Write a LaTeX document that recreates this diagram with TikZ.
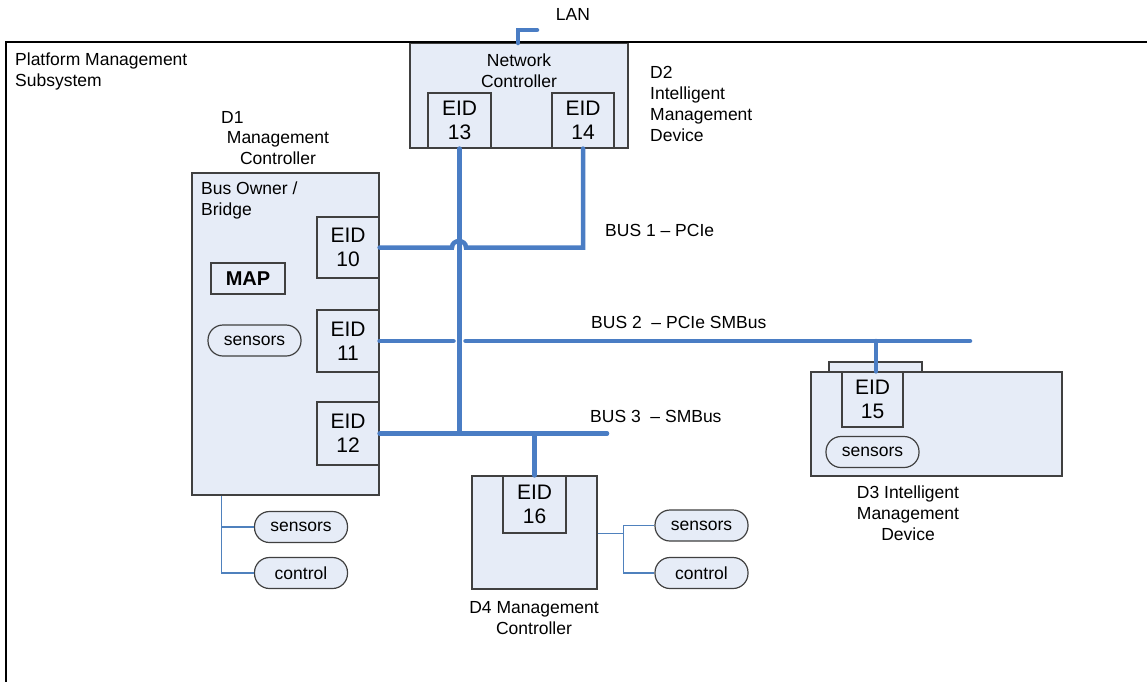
\documentclass[tikz,border=0pt]{standalone}
\usepackage{fontspec}
\setmainfont{Liberation Sans}
\usetikzlibrary{calc}
\definecolor{boxfill}{RGB}{230,236,247}
\definecolor{boxline}{RGB}{64,64,64}
\definecolor{busblue}{RGB}{74,125,196}
\definecolor{wireblue}{RGB}{79,129,189}

\begin{document}
\begin{tikzpicture}[x=1pt,y=-1pt,
    txt/.style={font=\fontsize{17.5}{21}\selectfont, inner sep=0pt},
    box/.style={draw=boxline, line width=1.2pt, fill=boxfill, inner sep=0pt},
    eid/.style={box, align=center, font=\fontsize{21}{24}\selectfont},
    pill/.style={box, rounded corners=15pt, minimum width=93pt, minimum height=31pt, font=\fontsize{17.5}{21}\selectfont},
    bus/.style={draw=busblue, line width=4.5pt, line cap=round},
    wire/.style={draw=wireblue, line width=1.5pt}]
        \useasboundingbox (0,0) rectangle (1147,681);
        \node[box, minimum width=218pt, minimum height=105pt] (nc) at (519,95.5) {};
        \draw[line width=2pt] (6,42) rectangle (1180,700);
        \node[txt, align=left, anchor=west] (title) at (15,71.5) {Platform Management\\Subsystem};
        \node[txt] (lan) at (573,14) {LAN};
        \node[txt, align=center] (nclbl) at (519,71) {Network\\Controller};
        \node[eid, minimum width=63pt, minimum height=55pt] (eid13) at (459.5,120.5) {EID\\13};
        \node[eid, minimum width=62pt, minimum height=55pt] (eid14) at (583,120.5) {EID\\14};
        \node[txt, align=left, anchor=west] (d2lbl) at (650,103.5) {D2\\Intelligent\\Management\\Device};

        \node[box, minimum width=187pt, minimum height=322pt] (d1) at (285.5,334) {};
        \node[txt, anchor=west] (d1id) at (221,117) {D1};
        \node[txt, align=center] (d1lbl) at (278,148.5) {Management\\Controller};
        \node[txt, align=left, anchor=west] (owner) at (201,200.5) {Bus Owner /\\Bridge};
        \node[eid, minimum width=62pt, minimum height=61pt] (eid10) at (348,247.5) {EID\\10};
        \node[eid, minimum width=62pt, minimum height=62pt] (eid11) at (348,341) {EID\\11};
        \node[eid, minimum width=62pt, minimum height=63pt] (eid12) at (348,433.5) {EID\\12};
        \node[box, minimum width=74pt, minimum height=31pt, font=\fontsize{20}{24}\selectfont\bfseries] (map) at (248,278.5) {MAP};
        \node[pill] (sens1) at (254.5,340.5) {sensors};
        \node[pill] (sens2) at (301,527) {sensors};
        \node[pill] (ctrl1) at (301,573) {control};

        \node[box, minimum width=93pt, minimum height=10pt] (d3tab) at (875.5,367) {};
        \node[box, minimum width=251pt, minimum height=104pt] (d3) at (936.5,424) {};
        \node[eid, minimum width=61pt, minimum height=55pt] (eid15) at (872.5,399.5) {EID\\15};
        \node[pill] (sens3) at (872.5,452) {sensors};
        \node[txt, align=center] (d3lbl) at (908,513) {D3 Intelligent\\Management\\Device};

        \node[box, minimum width=125pt, minimum height=113pt] (d4) at (534.5,532.5) {};
        \node[eid, minimum width=63pt, minimum height=57pt] (eid16) at (534.5,504.5) {EID\\16};
        \node[txt, align=center] (d4lbl) at (534,618.5) {D4 Management\\Controller};
        \node[pill] (sens4) at (701.5,525.5) {sensors};
        \node[pill] (ctrl2) at (701.5,573) {control};

        \node[txt, anchor=west] (bus1lbl) at (605,230) {BUS 1 – PCIe};
        \node[txt, anchor=west] (bus2lbl) at (591,322) {BUS 2 \ – PCIe SMBus};
        \node[txt, anchor=west] (bus3lbl) at (590,416) {BUS 3 \ – SMBus};

        \coordinate (lanin) at (518,43);
        \coordinate (lanend) at (537,30);
        \draw[bus] (lanin) |- (lanend);

        \coordinate (hopl) at (452,247.5);
        \coordinate (hopr) at (466,247.5);
        \draw[bus] (eid10.east) -- (hopl) .. controls (452,239) and (466,239) .. (hopr) -| (eid14.south);
        \coordinate (j3) at (eid13.south |- eid12.east);
        \draw[bus] (eid13.south) -- (j3);

        \coordinate (gapl) at (453.5,341);
        \coordinate (gapr) at (465.5,341);
        \coordinate (bus2end) at (970,341);
        \coordinate (d3tap) at (876,341);
        \draw[bus] (eid11.east) -- (gapl);
        \draw[bus] (gapr) -- (bus2end);
        \draw[bus] (d3tap) -- (d3tap |- eid15.north);

        \coordinate (bus3end) at (607,433.5);
        \draw[bus] (eid12.east) -- (bus3end);
        \draw[bus] (eid16.north) -- (eid16.north |- bus3end);

        \coordinate (d1tap) at ($(d1.south west)+(30,0)$);
        \draw[wire] (d1tap) |- (ctrl1.west);
        \draw[wire] (d1tap |- sens2.west) -- (sens2.west);
        \coordinate (d4tap) at (d4.east |- eid16.south);
        \coordinate (d4br) at ($(d4tap)+(26,0)$);
        \draw[wire] (d4tap) -- (d4br);
        \draw[wire] (sens4.west) -| (d4br) |- (ctrl2.west);
\end{tikzpicture}
\end{document}
